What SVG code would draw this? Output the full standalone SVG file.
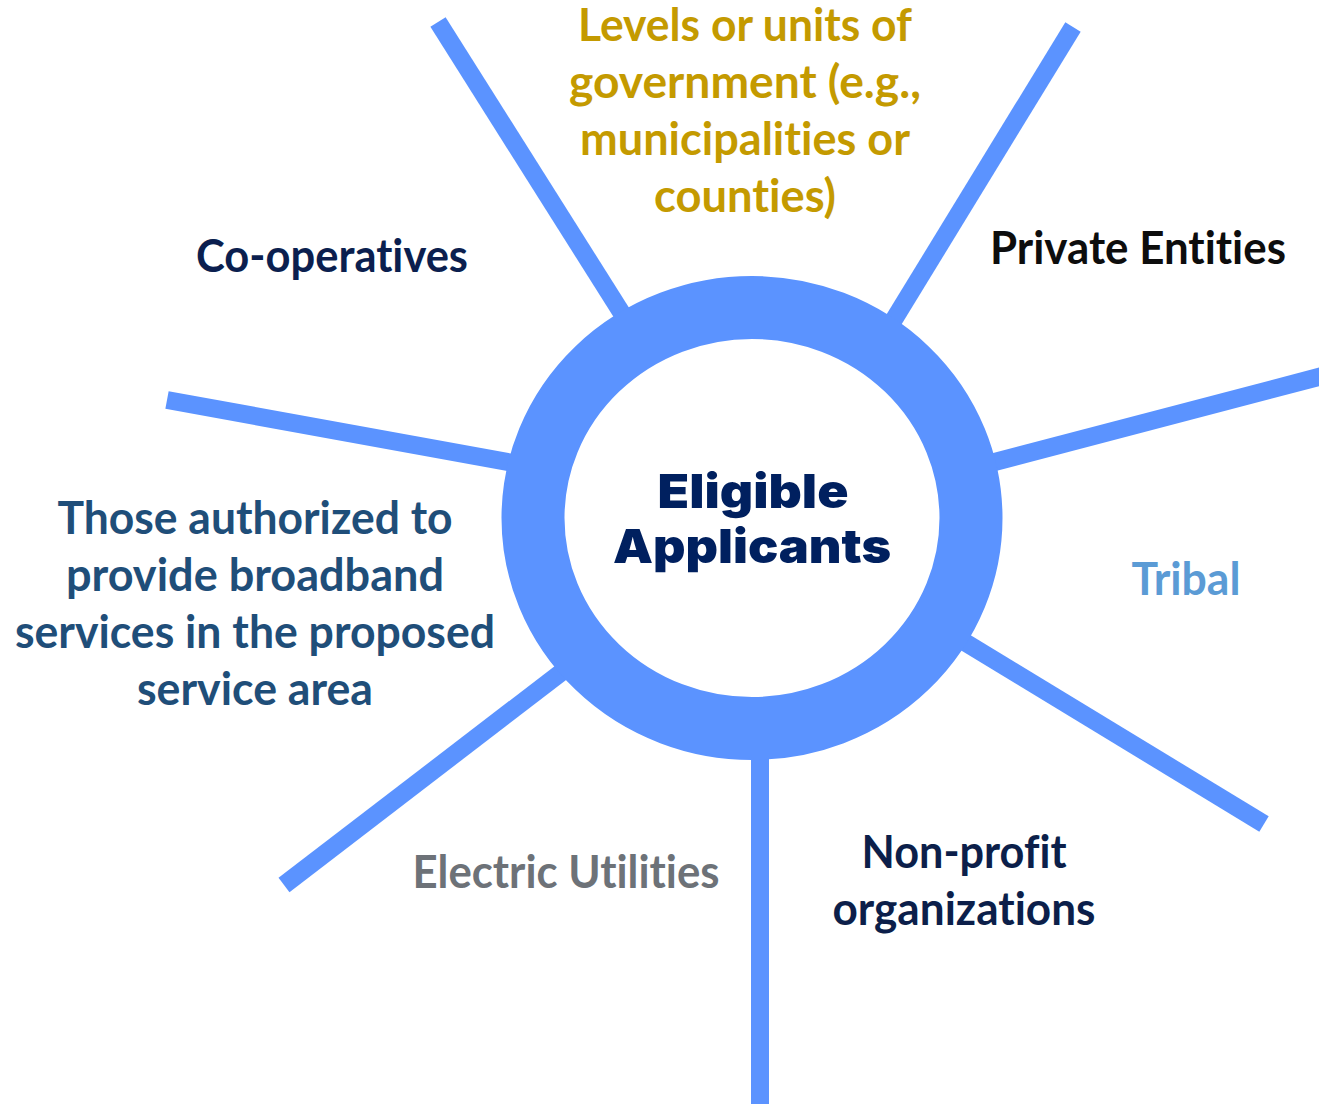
<svg xmlns="http://www.w3.org/2000/svg" width="1319" height="1104" viewBox="0 0 1319 1104">
<style>
.spoke{stroke:#5B93FF;stroke-width:18;fill:none;stroke-linecap:butt}
.lbl{font-family:Lato,"Open Sans","Liberation Sans",sans-serif;font-weight:700;font-size:45px;text-anchor:middle;font-variant-ligatures:none;font-feature-settings:"liga" 0,"dlig" 0}
.ctr{font-family:Inter,"Liberation Sans",sans-serif;font-weight:900;font-size:47px;text-anchor:middle;fill:#00205F}
</style>
<rect width="1319" height="1104" fill="#FFFFFF"/>
<g id="connectors">
<line class="spoke" x1="438" y1="22" x2="700" y2="437"/>
<line class="spoke" x1="1073" y1="27" x2="800" y2="473"/>
<line class="spoke" x1="167" y1="400" x2="700" y2="497"/>
<line class="spoke" x1="1330" y1="374" x2="800" y2="513"/>
<line class="spoke" x1="1264" y1="824" x2="800" y2="542"/>
<line class="spoke" x1="284" y1="885" x2="700" y2="566"/>
<line class="spoke" x1="760" y1="1110" x2="760" y2="600"/>
</g>
<g id="center">
<ellipse cx="752" cy="518" rx="219" ry="210.5" fill="#FFFFFF" stroke="#5B93FF" stroke-width="63"/>
<text class="ctr" x="753" y="508" textLength="191" lengthAdjust="spacingAndGlyphs">Eligible</text>
<text class="ctr" x="752" y="563" textLength="278" lengthAdjust="spacingAndGlyphs">Applicants</text>
</g>
<g id="node-government">
<text class="lbl" fill="#C49A00" x="745" y="41" textLength="334" lengthAdjust="spacingAndGlyphs">Levels or units of</text>
<text class="lbl" fill="#C49A00" x="745" y="98" textLength="352" lengthAdjust="spacingAndGlyphs">government (e.g.,</text>
<text class="lbl" fill="#C49A00" x="745" y="155" textLength="330" lengthAdjust="spacingAndGlyphs">municipalities or</text>
<text class="lbl" fill="#C49A00" x="745" y="212" textLength="182" lengthAdjust="spacingAndGlyphs">counties)</text>
</g>
<g id="node-cooperatives">
<text class="lbl" fill="#0B1F4F" x="332" y="272" textLength="272" lengthAdjust="spacingAndGlyphs">Co-operatives</text>
</g>
<g id="node-private">
<text class="lbl" fill="#0D0D0D" x="1138" y="264" textLength="296" lengthAdjust="spacingAndGlyphs">Private Entities</text>
</g>
<g id="node-tribal">
<text class="lbl" fill="#5B9BD5" x="1186" y="595" textLength="109" lengthAdjust="spacingAndGlyphs">Tribal</text>
</g>
<g id="node-authorized">
<text class="lbl" fill="#1F4E79" x="255" y="534" textLength="395" lengthAdjust="spacingAndGlyphs">Those authorized to</text>
<text class="lbl" fill="#1F4E79" x="255" y="591" textLength="378" lengthAdjust="spacingAndGlyphs">provide broadband</text>
<text class="lbl" fill="#1F4E79" x="255" y="648" textLength="480" lengthAdjust="spacingAndGlyphs">services in the proposed</text>
<text class="lbl" fill="#1F4E79" x="255" y="705" textLength="236" lengthAdjust="spacingAndGlyphs">service area</text>
</g>
<g id="node-electric">
<text class="lbl" fill="#6D7278" x="566" y="888" textLength="307" lengthAdjust="spacingAndGlyphs">Electric Utilities</text>
</g>
<g id="node-nonprofit">
<text class="lbl" fill="#0C1F4A" x="964" y="868" textLength="205" lengthAdjust="spacingAndGlyphs">Non-profit</text>
<text class="lbl" fill="#0C1F4A" x="964" y="925" textLength="263" lengthAdjust="spacingAndGlyphs">organizations</text>
</g>
</svg>
